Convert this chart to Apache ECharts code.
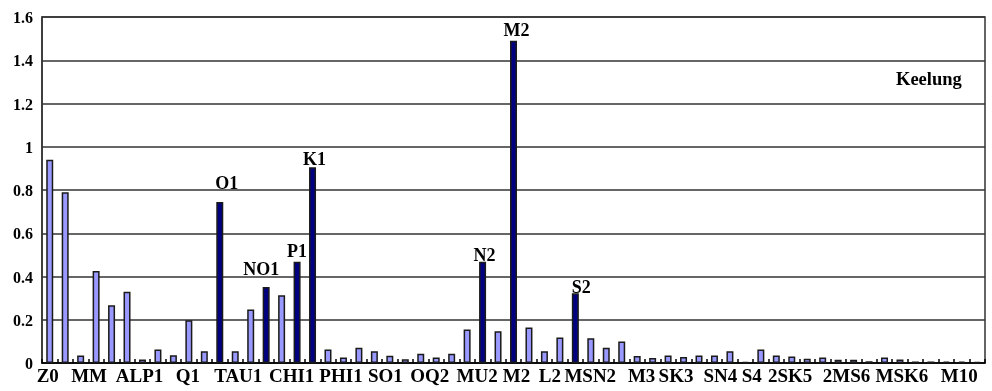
<!DOCTYPE html>
<html>
<head>
<meta charset="utf-8">
<script src="https://cdn.jsdelivr.net/npm/echarts@6/dist/echarts.min.js"></script>
<style>
  html, body { margin: 0; padding: 0; background: #ffffff; }
  #chart { width: 992px; height: 391px; }
</style>
</head>
<body>
<div id="chart"></div>
<script>
// Tidal constituents, in frequency order
const constituents = [
  'Z0', 'SA', 'SSA', 'MM', 'MSF', 'MF', 'ALP1', '2Q1', 'SIG1', 'Q1',
  'RHO1', 'O1', 'TAU1', 'BET1', 'NO1', 'CHI1', 'P1', 'K1', 'PHI1', 'THE1',
  'J1', 'SO1', 'OO1', 'UPS1', 'OQ2', 'EPS2', '2N2', 'MU2', 'N2', 'NU2',
  'M2', 'MKS2', 'LDA2', 'L2', 'S2', 'K2', 'MSN2', 'ETA2', 'MO3', 'M3',
  'SO3', 'MK3', 'SK3', 'MN4', 'M4', 'SN4', 'MS4', 'MK4', 'S4', 'SK4',
  '2MK5', '2SK5', '2MN6', 'M6', '2MS6', '2MK6', '2SM6', 'MSK6', '3MK7', 'M8',
  'M10'
];

// Amplitude of each constituent
const amplitudes = [
  0.94, 0.79, 0.035, 0.425, 0.267, 0.329, 0.016, 0.063, 0.036, 0.198,
  0.054, 0.745, 0.054, 0.247, 0.352, 0.313, 0.468, 0.905, 0.062, 0.025,
  0.071, 0.054, 0.034, 0.017, 0.043, 0.025, 0.043, 0.155, 0.468, 0.147,
  1.49, 0.164, 0.054, 0.118, 0.322, 0.115, 0.071, 0.100, 0.032, 0.023,
  0.035, 0.028, 0.035, 0.035, 0.054, 0.005, 0.062, 0.035, 0.030, 0.020,
  0.025, 0.015, 0.015, 0.008, 0.025, 0.016, 0.007, 0.007, 0.006, 0.006,
  0.005
];

// Dominant constituents, drawn dark and named above the bar
const majorConstituents = ['O1', 'NO1', 'P1', 'K1', 'N2', 'M2', 'S2'];

const stationName = 'Keelung';

// Small nudges so names sit clear of neighbouring bars
const labelOffsets = {
  O1: [7, -9], NO1: [-5, -8], P1: [0, 0], K1: [2, 2],
  N2: [2, 4], M2: [3, 0], S2: [6, 4]
};

// Horizontal nudges (px) for the axis names, which are spread loosely along the axis
const axisNameShift = {
  Z0: -2, MM: -7, ALP1: -3, Q1: -1, TAU1: 3, CHI1: 10, PHI1: 13, SO1: 11,
  OQ2: 9, MU2: 10, M2: 3, L2: -10, MSN2: -16, M3: -11, SK3: -23, SN4: -25,
  S4: -40, '2SK5': -48, '2MS6': -38, MSK6: -29, M10: -18
};

const FONT = "'Liberation Serif', 'Times New Roman', serif";
const LIGHT = '#9999ff';
const DARK = '#000080';

const barData = amplitudes.map((v, i) => {
  const name = constituents[i];
  const major = majorConstituents.includes(name);
  return {
    value: v,
    itemStyle: { color: major ? DARK : LIGHT },
    label: major
      ? { show: true, formatter: name, offset: labelOffsets[name] || [0, 0] }
      : { show: false }
  };
});

// Rich-text styles that shift a centred label left or right via padding
const xRich = {};
const shiftKeys = Object.keys(axisNameShift);
shiftKeys.forEach((k, idx) => {
  const d = axisNameShift[k];
  xRich['s' + idx] = {
    fontFamily: FONT, fontSize: 19, fontWeight: 'bold', color: '#000',
    padding: d < 0 ? [0, -2 * d, 0, 0] : [0, 0, 0, 2 * d]
  };
});

const chart = echarts.init(document.getElementById('chart'), null, { renderer: 'canvas' });

chart.setOption({
  animation: false,
  backgroundColor: '#ffffff',
  grid: {
    left: 42, right: 7, top: 17, bottom: 28,
    show: true, borderColor: '#333', borderWidth: 1.5,
    backgroundColor: 'transparent'
  },
  graphic: [{
    type: 'text',
    left: 896, top: 71,
    style: {
      text: stationName,
      font: 'bold 18.5px ' + FONT,
      fill: '#000'
    }
  }],
  xAxis: {
    type: 'category',
    data: constituents,
    boundaryGap: true,
    axisLine: { show: true, lineStyle: { color: '#000', width: 1.5 } },
    axisTick: {
      show: true, inside: true, length: 4, interval: 0,
      lineStyle: { color: '#000', width: 1.5 }
    },
    axisLabel: {
      interval: 2, margin: 5,
      fontFamily: FONT, fontSize: 19, fontWeight: 'bold', color: '#000',
      formatter: (name) => {
        const idx = shiftKeys.indexOf(name);
        return idx >= 0 ? '{s' + idx + '|' + name + '}' : name;
      },
      rich: xRich
    },
    splitLine: { show: false }
  },
  yAxis: {
    type: 'value',
    min: 0, max: 1.6, interval: 0.2,
    axisLine: { show: true, lineStyle: { color: '#333', width: 1.5 } },
    axisTick: { show: false },
    axisLabel: {
      margin: 9,
      formatter: (v) => '{v|' + v + '}',
      rich: {
        v: { fontFamily: FONT, fontSize: 16, fontWeight: 'bold', color: '#000', padding: [4, 0, 0, 0] }
      }
    },
    splitLine: { show: true, lineStyle: { color: '#333', width: 1.5 } }
  },
  series: [{
    type: 'bar',
    data: barData,
    barWidth: 7,
    itemStyle: { borderColor: '#1a1a1a', borderWidth: 1.5 },
    label: {
      position: 'top', distance: 0,
      fontFamily: FONT, fontSize: 18, fontWeight: 'bold', color: '#000'
    },
    emphasis: { disabled: true }
  }]
});
</script>
</body>
</html>
